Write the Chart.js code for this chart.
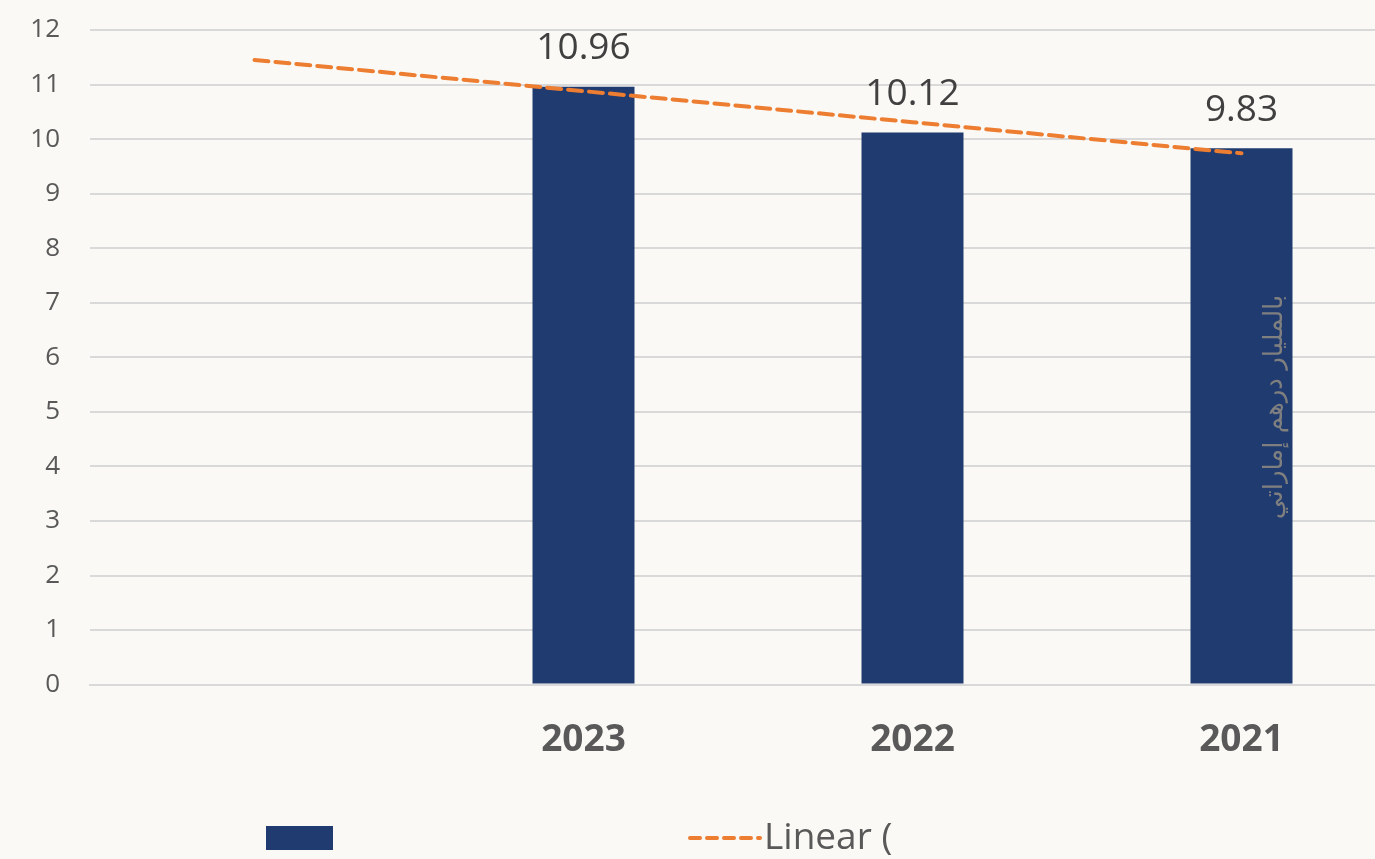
<!DOCTYPE html>
<html>
<head>
<meta charset="utf-8">
<script src="https://cdn.jsdelivr.net/npm/chart.js@4"></script>
<style>
  html, body { margin: 0; padding: 0; background: #faf9f5; overflow: hidden; }
  #wrap { width: 1406px; height: 859px; }
</style>
</head>
<body>
<div id="wrap"><canvas id="chart"></canvas></div>
<script>
// data
const years = ["", "2023", "2022", "2021"];
const values = [null, 10.96, 10.12, 9.83];
const trend = [11.45, 10.88, 10.31, 9.74];
const yTicks = [0, 1, 2, 3, 4, 5, 6, 7, 8, 9, 10, 11, 12];
const unitLabel = "بالمليار درهم إماراتي";
const trendLabel = "Linear (";

const barColor = "#1f3b6f";
const trendColor = "#ed7d31";
const textColor = "#595959";

//! labels above bars, unit text, legend
const extras = {
  id: "extras",
  afterDatasetsDraw(chart) {
    const ctx = chart.ctx;
    const meta = chart.getDatasetMeta(1);
    ctx.save();
    ctx.fillStyle = "#404040";
    ctx.font = "37px 'Open Sans'";
    ctx.textAlign = "center";
    ctx.textBaseline = "middle";
    meta.data.forEach((bar, i) => {
      if (values[i] == null) return;
      ctx.fillText(values[i].toFixed(2), bar.x, bar.y - 38);
    });

    // unit text, rotated
    ctx.fillStyle = "#7f7f7f";
    ctx.font = "26px 'DejaVu Sans'";
    ctx.translate(1275, 407);
    ctx.rotate(-Math.PI / 2);
    ctx.textAlign = "center";
    ctx.textBaseline = "middle";
    ctx.fillText(unitLabel, 0, 0);
    ctx.restore();

    // legend
    ctx.save();
    ctx.fillStyle = barColor;
    ctx.fillRect(266, 826, 67, 24);
    ctx.strokeStyle = trendColor;
    ctx.lineWidth = 4;
    ctx.lineCap = "round";
    ctx.setLineDash([10, 7]);
    ctx.beginPath();
    ctx.moveTo(690, 838);
    ctx.lineTo(760, 838);
    ctx.stroke();
    ctx.fillStyle = textColor;
    ctx.font = "37px 'Open Sans'";
    ctx.textBaseline = "middle";
    ctx.fillText(trendLabel, 764, 838);
    ctx.restore();
  }
};

new Chart(document.getElementById("chart"), {
  data: {
    labels: years,
    datasets: [
      {
        type: "line",
        label: trendLabel,
        data: trend,
        borderColor: trendColor,
        borderWidth: 4,
        borderDash: [14, 7],
        borderCapStyle: "round",
        pointRadius: 0,
        order: 0,
      },
      {
        type: "bar",
        label: "",
        data: values,
        backgroundColor: barColor,
        barPercentage: 0.31,
        categoryPercentage: 1,
        order: 1,
      },
    ],
  },
  options: {
    responsive: true,
    maintainAspectRatio: false,
    animation: false,
    layout: { padding: { top: 30, right: 0, bottom: 70, left: 0 } },
    plugins: {
      legend: { display: false },
      tooltip: { enabled: false },
    },
    scales: {
      x: {
        grid: { display: false },
        border: { color: "#d9d9d9", width: 2 },
        ticks: {
          color: textColor,
          font: { family: "'Open Sans'", size: 37, weight: "bold" },
          padding: 26,
        },
      },
      y: {
        min: 0,
        max: 12,
        afterFit(scale) {
          scale.width = 90;
          scale.paddingTop = 0;
          scale.paddingBottom = 0;
        },
        afterBuildTicks(scale) { scale.ticks = yTicks.map(v => ({ value: v })); },
        grid: { color: "#d9d9d9", lineWidth: 2, drawTicks: false },
        border: { display: false },
        ticks: {
          color: textColor,
          font: { family: "'Open Sans'", size: 26 },
          padding: 30,
        },
      },
    },
  },
  plugins: [extras],
});
</script>
</body>
</html>
